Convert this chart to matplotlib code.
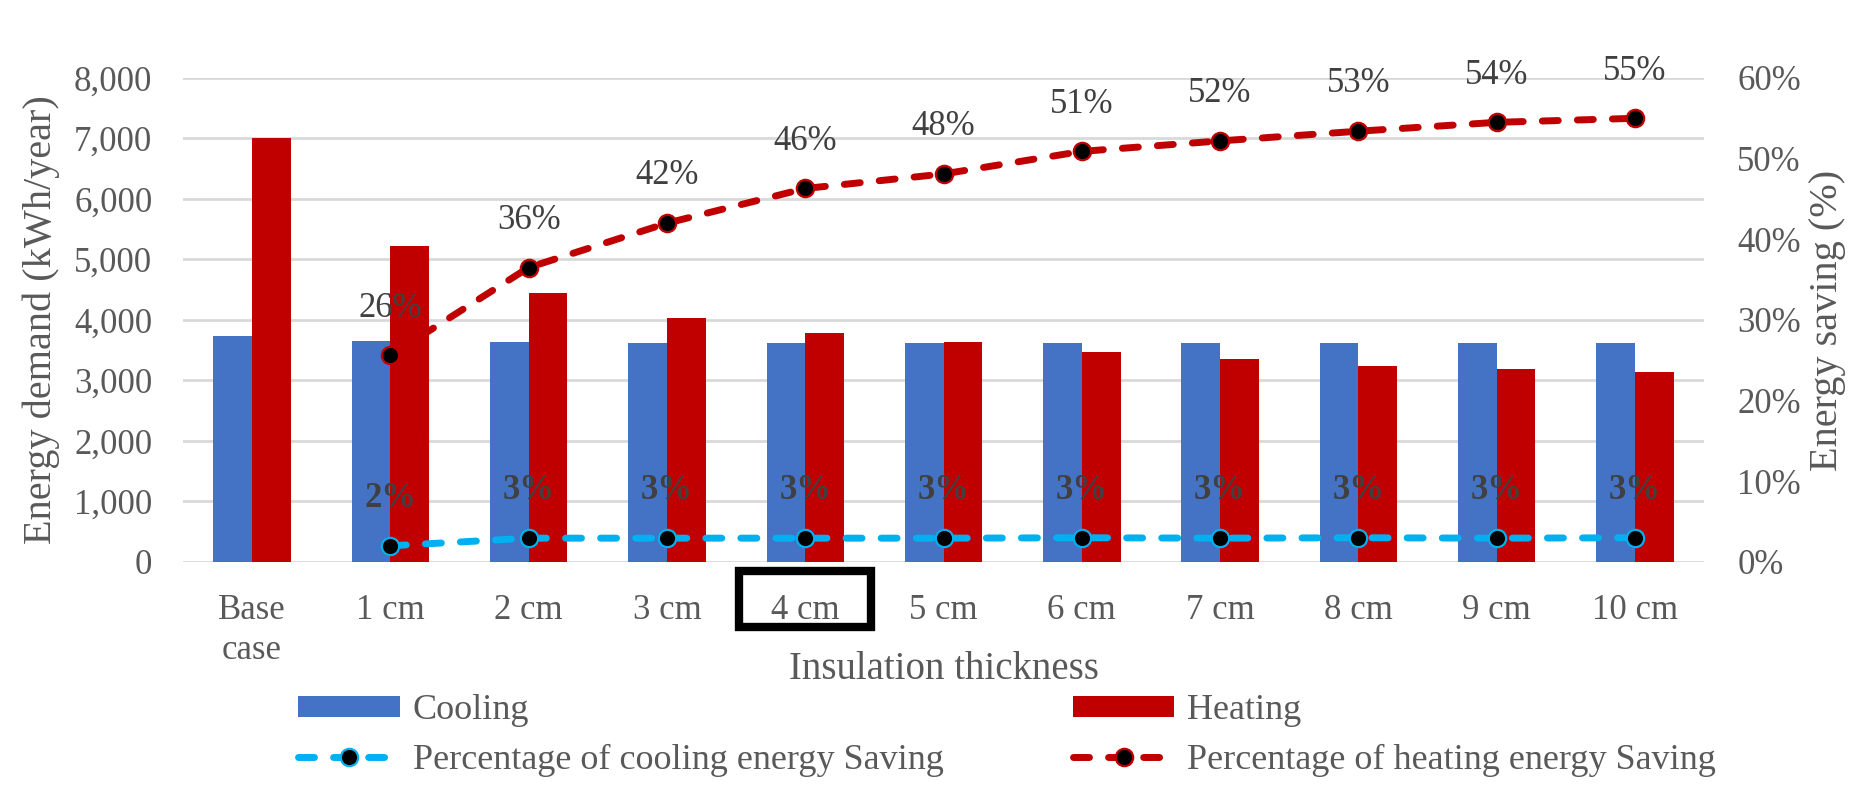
import numpy as np
import matplotlib.pyplot as plt
from matplotlib.patches import Rectangle, Patch
from matplotlib.lines import Line2D
import matplotlib.transforms as mtransforms

plt.rcParams['font.family'] = ['Liberation Serif', 'DejaVu Serif']

categories = ["Base\ncase", "1 cm", "2 cm", "3 cm", "4 cm", "5 cm",
              "6 cm", "7 cm", "8 cm", "9 cm", "10 cm"]
cooling = [3740, 3660, 3640, 3620, 3620, 3620, 3620, 3620, 3620, 3620, 3620]
heating = [7000, 5230, 4450, 4040, 3780, 3640, 3470, 3350, 3240, 3190, 3140]

# savings only exist for the insulated cases (1..10 cm)
heat_saving = [25.6, 36.5, 42.0, 46.3, 48.1, 50.9, 52.2, 53.4, 54.5, 55.0]
cool_saving = [2.0, 2.95, 2.95, 2.95, 2.95, 3.0, 2.95, 3.0, 2.95, 3.0]
heat_labels = ["26%", "36%", "42%", "46%", "48%", "51%", "52%", "53%", "54%", "55%"]
cool_labels = ["2%", "3%", "3%", "3%", "3%", "3%", "3%", "3%", "3%", "3%"]

BLUE = "#4472C4"
RED = "#C00000"
CYAN = "#00B0F0"
GREY = "#595959"
DARK = "#404040"
FS = 25

fig = plt.figure(figsize=(18.65, 8.08), dpi=100)
ax = fig.add_axes([0.0981, 0.3045, 0.8156, 0.599])
ax2 = ax.twinx()

x = np.arange(len(categories))
w = 0.28
ax.bar(x - w/2, cooling, w, color=BLUE, zorder=2)
ax.bar(x + w/2, heating, w, color=RED, zorder=2)

ax.set_ylim(0, 8000)
ax.set_xlim(-0.5, len(categories) - 0.5)
ax.set_yticks(np.arange(0, 8001, 1000))
ax.set_yticklabels([f"{v:,}" for v in range(0, 8001, 1000)])
ax.yaxis.grid(True, color="#D9D9D9", linewidth=2, zorder=0)
ax.set_axisbelow(True)
ax.set_xticks(x)
ax.set_xticklabels(categories, linespacing=1.3)
ax.tick_params(axis="both", length=0, labelsize=FS, labelcolor=GREY)
ax.tick_params(axis="y", pad=22)
ax.tick_params(axis="x", pad=23)
for s in list(ax.spines.values()) + list(ax2.spines.values()):
    s.set_visible(False)

ax.set_ylabel("Energy demand (kWh/year)", fontsize=29, color=GREY, labelpad=10)
ax.set_xlabel("Insulation thickness", fontsize=28, color=GREY, labelpad=-12)

xs = x[1:]
lw = 5
dash = (2.3, 2.75)
line_kw = dict(lw=lw, dashes=dash, dash_capstyle="round", marker="o", markersize=12.5,
               markerfacecolor="black", markeredgewidth=1.6)
ax2.plot(xs, heat_saving, color=RED, markeredgecolor=RED, zorder=5, **line_kw)
ax2.plot(xs, cool_saving, color=CYAN, markeredgecolor=CYAN, zorder=5, **line_kw)
for xi, v, t in zip(xs, heat_saving, heat_labels):
    ax2.annotate(t, (xi, v), xytext=(0, 34), textcoords="offset points",
                 ha="center", va="center", fontsize=FS, color=DARK)
for xi, v, t in zip(xs, cool_saving, cool_labels):
    ax2.annotate(t, (xi, v), xytext=(0, 34), textcoords="offset points",
                 ha="center", va="center", fontsize=FS, color=DARK, fontweight="bold")

ax2.set_ylim(0, 60)
ax2.set_yticks(np.arange(0, 61, 10))
ax2.set_yticklabels([f"{v}%" for v in range(0, 61, 10)])
ax2.tick_params(axis="y", length=0, labelsize=FS, labelcolor=GREY, pad=24)
ax2.set_ylabel("Energy saving (%)", fontsize=29, color=GREY, labelpad=6)

# highlight box round the 4 cm tick label
trans = mtransforms.blended_transform_factory(ax.transData, ax.transAxes)
ax.add_patch(Rectangle((4 - 0.477, -0.134), 0.954, 0.115, transform=trans, fill=False,
                       edgecolor="black", linewidth=6, clip_on=False))

handles = [
    Patch(facecolor=BLUE, edgecolor="none", label="Cooling"),
    Line2D([], [], color=CYAN, markeredgecolor=CYAN,
           label="Percentage of cooling energy Saving", **line_kw),
    Patch(facecolor=RED, edgecolor="none", label="Heating"),
    Line2D([], [], color=RED, markeredgecolor=RED,
           label="Percentage of heating energy Saving", **line_kw),
]
leg = fig.legend(handles=handles, ncol=2, loc="upper left", bbox_to_anchor=(0.1598, 0.141),
                 frameon=False, fontsize=26, handlelength=2.82, handleheight=0.5,
                 handletextpad=0.36, columnspacing=3.57, labelspacing=0.46, borderpad=0,
                 borderaxespad=0)
for t in leg.get_texts():
    t.set_color(GREY)

fig.savefig("out.png", dpi=100)
